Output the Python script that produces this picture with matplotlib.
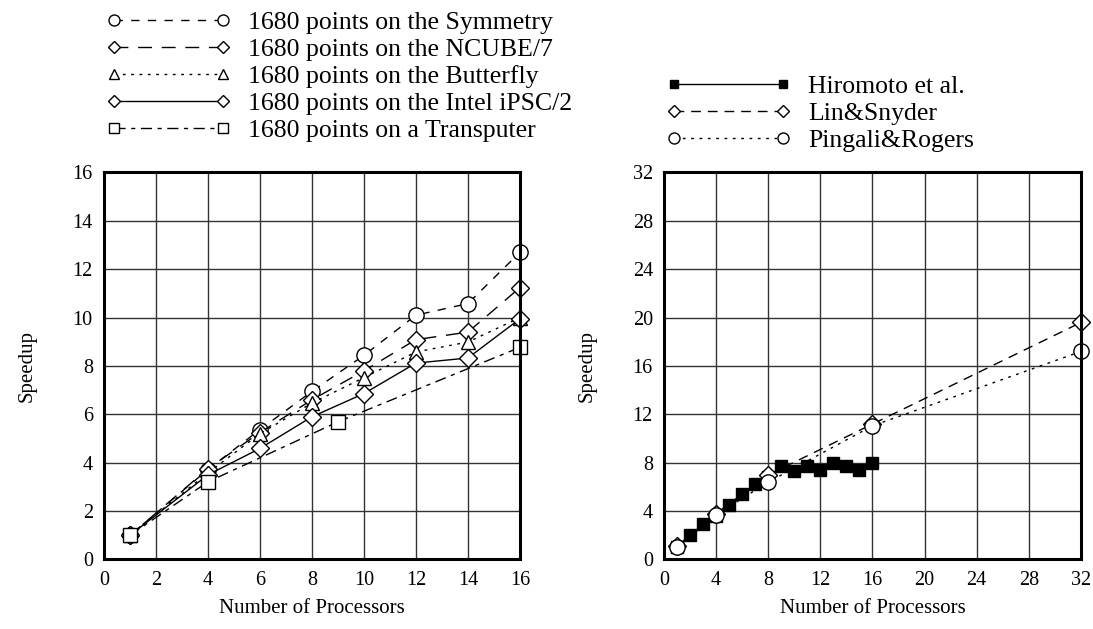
import matplotlib.pyplot as plt
import numpy as np

plt.rcParams['font.family'] = ['Liberation Serif', 'DejaVu Serif']

# left panel: 1680 points on different machines
procs_left = [1, 4, 6, 8, 10, 12, 14, 16]
symmetry = [1.0, 3.72, 5.37, 6.95, 8.44, 10.1, 10.58, 12.7]
ncube = [1.0, 3.75, 5.25, 6.6, 7.8, 9.09, 9.4, 11.24]
butterfly = [1.0, 3.58, 5.2, 6.47, 7.52, 8.58, 8.99, 10.0]
intel = [1.0, 3.5, 4.59, 5.9, 6.86, 8.12, 8.33, 9.95]
procs_transputer = [1, 4, 9, 16]
transputer = [1.0, 3.21, 5.69, 8.77]

# right panel: comparison with other work
procs_hiromoto = list(range(1, 17))
hiromoto = [1.0, 2.0, 2.9, 3.6, 4.5, 5.4, 6.25, 6.8,
            7.7, 7.3, 7.7, 7.4, 8.0, 7.7, 7.4, 8.0]
procs_other = [1, 4, 8, 16, 32]
lin_snyder = [1.1, 3.8, 7.0, 11.2, 19.6]
pingali = [1.0, 3.7, 6.4, 11.05, 17.2]

left_ticks = np.arange(0, 17, 2)
right_ticks = np.arange(0, 33, 4)

fig = plt.figure(figsize=(10.93, 6.29), dpi=100)
ax1 = fig.add_axes([0.0951, 0.1105, 0.3806, 0.6153])
ax2 = fig.add_axes([0.6075, 0.1105, 0.3815, 0.6153])

mk = dict(mfc='white', mec='black', mew=1.0, color='black', lw=1.0, clip_on=False)

ax1.plot(procs_left, symmetry, ls=(0, (6, 6)), marker='o', ms=11,
         label='1680 points on the Symmetry', **mk)
ax1.plot(procs_left, ncube, ls=(0, (10, 7)), marker='D', ms=9,
         label='1680 points on the NCUBE/7', **mk)
ax1.plot(procs_left, butterfly, ls=(0, (2, 4)), marker='^', ms=10,
         label='1680 points on the Butterfly', **mk)
ax1.plot(procs_left, intel, ls='-', marker='D', ms=9,
         label='1680 points on the Intel iPSC/2', **mk)
ax1.plot(procs_transputer, transputer, ls=(0, (8, 4, 3, 4)), marker='s', ms=9.5,
         label='1680 points on a Transputer', **mk)

ax2.plot(procs_hiromoto, hiromoto, ls='-', marker='s', ms=8, mfc='black',
         mec='black', color='black', lw=1.0, clip_on=False, label='Hiromoto et al.')
ax2.plot(procs_other, lin_snyder, ls=(0, (7, 5)), marker='D', ms=9,
         label='Lin&Snyder', **mk)
ax2.plot(procs_other, pingali, ls=(0, (2, 4)), marker='o', ms=11,
         label='Pingali&Rogers', **mk)

for ax, ticks in [(ax1, left_ticks), (ax2, right_ticks)]:
    ax.set_xlim(0, ticks[-1])
    ax.set_ylim(0, ticks[-1])
    ax.set_xticks(ticks)
    ax.set_yticks(ticks)
    ax.grid(True, color='0.2', lw=1.0)
    ax.set_axisbelow(True)
    ax.tick_params(length=0, labelsize=14.5, pad=8)
    for s in ax.spines.values():
        s.set_linewidth(2.2)
        s.set_zorder(5)
    ax.set_xlabel('Number of Processors', fontsize=15, labelpad=7)
    ax.set_ylabel('Speedup', fontsize=15, labelpad=26)

leg_kw = dict(frameon=False, numpoints=2, markerscale=0.72, fontsize=18.5,
              handlelength=4.85, handletextpad=0.67, labelspacing=0.16,
              borderaxespad=0, borderpad=0, loc='upper left')
ax1.legend(bbox_to_anchor=(106 / 1093, 1 - 11 / 629),
           bbox_transform=fig.transFigure, **leg_kw)
ax2.legend(bbox_to_anchor=(666 / 1093, 1 - 75 / 629),
           bbox_transform=fig.transFigure, **leg_kw)

fig.savefig('out.png', dpi=100)
